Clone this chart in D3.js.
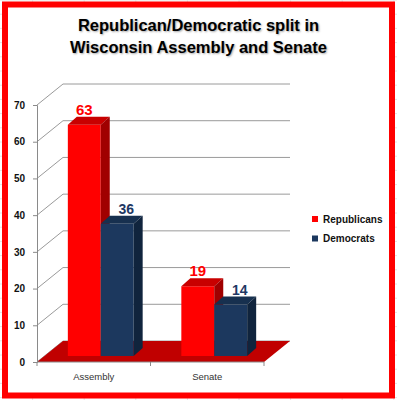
<!DOCTYPE html>
<html>
<head>
<meta charset="utf-8">
<script src="https://cdn.jsdelivr.net/npm/d3@7"></script>
<style>
  body { margin: 0; background: #fff; }
  svg { display: block; font-family: "Liberation Sans", Arial, sans-serif; }
  .title { text-shadow: 1px 1px 2px rgba(0,0,0,0.35); }
</style>
</head>
<body>
<div id="chart"></div>
<script>
const categories = ['Assembly', 'Senate'];
const series = ['Republicans', 'Democrats'];
const republicans = [63, 19];
const democrats = [36, 14];
const yTicks = [0, 10, 20, 30, 40, 50, 60, 70];
const titleLines = ['Republican/Democratic split in', 'Wisconsin Assembly and Senate'];

const w = 397, h = 400;
const depth = { dx: 26, dy: -21 },     // floor / wall depth
      barOff = { dx: 7, dy: -6 },      // bar front face set back
      barDepth = { dx: 9, dy: -8 };    // bar thickness

const colors = {
  Republicans: { front: '#FF0000', top: '#C80000', side: '#A00000', label: '#FF0000' },
  Democrats:   { front: '#1C385E', top: '#17304F', side: '#10243D', label: '#1F3864' }
};

const svg = d3.select('#chart')
  .append('svg')
  .attr('width', w)
  .attr('height', h);

// faint spreadsheet grid behind everything
const bg = svg.append('g').attr('stroke', '#e4e4e4').attr('stroke-width', 1);
d3.range(-19, w, 51.6).forEach(x => bg.append('line').attr('x1', x).attr('x2', x).attr('y1', 0).attr('y2', h));
d3.range(0, h, 14.2).forEach(y => bg.append('line').attr('x1', 0).attr('x2', w).attr('y1', y).attr('y2', y));

svg.append('rect')
   .attr('x', 5).attr('y', 4.5)
   .attr('width', 387).attr('height', 391)
   .attr('fill', '#fff')
   .attr('stroke', '#FF0000')
   .attr('stroke-width', 6);

svg.selectAll('text.title')
   .data(titleLines)
   .enter()
   .append('text')
   .attr('class', 'title')
   .attr('x', 198.5)
   .attr('y', (d, i) => 31 + i * 22)
   .attr('text-anchor', 'middle')
   .style('font-size', '16.5px')
   .style('font-weight', 'bold')
   .attr('fill', '#000')
   .text(d => d);

const y = d3.scaleLinear().domain([0, 70]).range([362, 105]);
const x0 = d3.scaleBand().domain(categories).range([37, 264]).paddingInner(0.42).paddingOuter(0.21);
const x1 = d3.scaleBand().domain(series).range([0, x0.bandwidth()]);
const left = x0.range()[0], right = x0.range()[1];

// walls: back gridlines and side-wall diagonals
const grid = svg.append('g').attr('stroke', '#9a9a9a').attr('stroke-width', 1).attr('fill', 'none');
yTicks.forEach(t => {
  grid.append('path').attr('d', `M${left},${y(t)}L${left + depth.dx},${y(t) + depth.dy}L${right + depth.dx},${y(t) + depth.dy}`);
});

// floor
svg.append('path')
   .attr('d', `M${left},${y(0)}L${right},${y(0)}L${right + depth.dx},${y(0) + depth.dy}L${left + depth.dx},${y(0) + depth.dy}Z`)
   .attr('fill', '#C00000');

// y axis
const yAxis = svg.append('g')
  .attr('transform', `translate(${left},0)`)
  .call(d3.axisLeft(y).tickValues(yTicks).tickSize(4).tickPadding(8));
yAxis.select('.domain').attr('stroke', '#8a8a8a');
yAxis.selectAll('.tick line').attr('stroke', '#8a8a8a');
yAxis.selectAll('.tick text')
     .style('font-size', '10px')
     .style('font-weight', 'bold')
     .attr('fill', '#111');

// x axis
const xg = svg.append('g').attr('stroke', '#8a8a8a');
xg.append('line').attr('x1', left).attr('x2', right).attr('y1', y(0)).attr('y2', y(0));
d3.range(categories.length + 1).forEach(i => {
  const xx = left + i * x0.step();
  xg.append('line').attr('x1', xx).attr('x2', xx).attr('y1', y(0)).attr('y2', y(0) + 4);
});
svg.selectAll('text.cat')
   .data(categories)
   .enter()
   .append('text')
   .attr('class', 'cat')
   .attr('x', d => x0(d) + x0.bandwidth() / 2)
   .attr('y', 380)
   .attr('text-anchor', 'middle')
   .style('font-size', '9.5px')
   .attr('fill', '#333')
   .text(d => d);

// bars
const rows = [];
categories.forEach((c, i) => {
  rows.push({ cat: c, s: 'Republicans', v: republicans[i] });
  rows.push({ cat: c, s: 'Democrats', v: democrats[i] });
});

const bars = svg.selectAll('g.bar')
  .data(rows)
  .enter()
  .append('g')
  .attr('class', 'bar');

const fx = d => x0(d.cat) + x1(d.s) + barOff.dx;
const bw = x1.bandwidth();
const base = y(0) + barOff.dy;
const barTop = d => y(d.v) + barOff.dy;

bars.append('rect')
    .attr('x', fx)
    .attr('y', barTop)
    .attr('width', bw)
    .attr('height', d => base - barTop(d))
    .attr('fill', d => colors[d.s].front);

bars.append('path')
    .attr('d', d => `M${fx(d)},${barTop(d)}L${fx(d) + bw},${barTop(d)}L${fx(d) + bw + barDepth.dx},${barTop(d) + barDepth.dy}L${fx(d) + barDepth.dx},${barTop(d) + barDepth.dy}Z`)
    .attr('fill', d => colors[d.s].top);

bars.append('path')
    .attr('d', d => `M${fx(d) + bw},${barTop(d)}L${fx(d) + bw + barDepth.dx},${barTop(d) + barDepth.dy}L${fx(d) + bw + barDepth.dx},${base + barDepth.dy}L${fx(d) + bw},${base}Z`)
    .attr('fill', d => colors[d.s].side);

bars.append('text')
    .attr('x', d => fx(d) + bw / 2 + (d.s === 'Democrats' ? 9 : 0))
    .attr('y', d => barTop(d) + barDepth.dy - 2)
    .attr('text-anchor', 'middle')
    .style('font-size', d => d.s === 'Democrats' ? '14px' : '15px')
    .style('font-weight', 'bold')
    .attr('fill', d => colors[d.s].label)
    .text(d => d.v);

// legend
const legend = svg.selectAll('g.legend')
  .data(series)
  .enter()
  .append('g')
  .attr('class', 'legend')
  .attr('transform', (d, i) => `translate(312, ${216 + i * 19.5})`);

legend.append('rect')
      .attr('width', 6)
      .attr('height', 6)
      .attr('fill', d => colors[d].front);

legend.append('text')
      .attr('x', 11)
      .attr('y', 6.5)
      .style('font-size', '10px')
      .style('font-weight', 'bold')
      .attr('fill', '#111')
      .text(d => d);
</script>
</body>
</html>
